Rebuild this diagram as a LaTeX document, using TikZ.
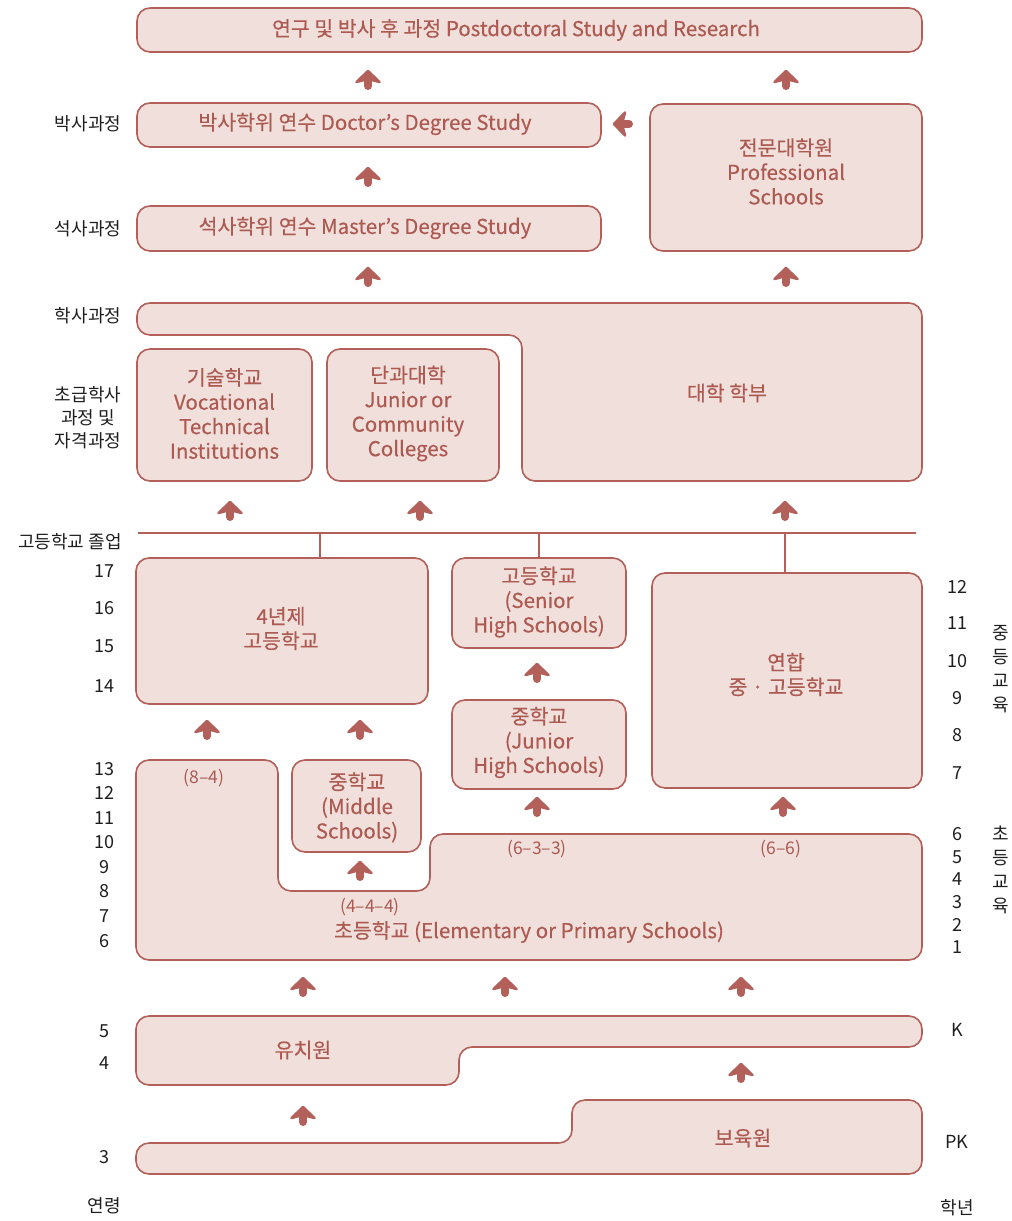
\documentclass[tikz,border=0pt]{standalone}
\usepackage{fontspec}
\setmainfont{Noto Sans CJK KR}[BoldFont=Noto Sans CJK KR, BoldFeatures={FakeBold=0.35}]
\definecolor{fillc}{HTML}{F0DFDB}
\definecolor{linec}{HTML}{B3605A}
\definecolor{txtc}{HTML}{AC5A52}
\definecolor{lblc}{HTML}{1E1E1E}
\tikzset{
  box/.style={draw=linec, fill=fillc, line width=1.6pt, rounded corners=13pt, inner sep=0pt},
  shapebox/.style={draw=linec, fill=fillc, line width=1.6pt, rounded corners=13pt},
  btxt/.style={text=txtc, align=center, inner sep=0pt, font=\fontsize{20.5}{24.5}\selectfont\bfseries},
  stxt/.style={text=txtc, align=center, inner sep=0pt, font=\fontsize{17.5}{20}\selectfont},
  lbl/.style={text=lblc, align=center, inner sep=0pt, font=\fontsize{18}{23}\selectfont},
  vlbl/.style={text=lblc, align=center, inner sep=0pt, font=\fontsize{18}{24}\selectfont},
  gline/.style={draw=linec, line width=1.6pt},
  upar/.pic={
    \fill[linec, draw=linec, line width=2.5pt, line join=round] (-11.5,2) -- (0,-9) -- (11.5,2) -- (0,-1) -- cycle;
    \draw[linec, line width=8pt, line cap=round] (0,-2) -- (0,6);
  }
}
\begin{document}
\begin{tikzpicture}[x=1pt,y=-1pt]
\useasboundingbox (0,0) rectangle (1012,1221);

% ---------- top level ----------
\node[box, minimum width=785, minimum height=44] (post) at (529.5,30) {};
\node[btxt] (postt) at (516,30) {연구 및 박사 후 과정 Postdoctoral Study and Research};

\node[box, minimum width=464, minimum height=44] (doc) at (369,125) {};
\node[btxt] (doct) at (365,124) {박사학위 연수 Doctor’s Degree Study};

\node[box, minimum width=272, minimum height=147] (prof) at (786,177.5) {};
\node[btxt] (proft) at (786,171.5) {전문대학원\\Professional\\Schools};

\node[box, minimum width=464, minimum height=45] (mas) at (369,228.5) {};
\node[btxt] (mast) at (365,228) {석사학위 연수 Master’s Degree Study};

% ---------- bachelor ----------
\draw[shapebox] (500,303) -- (922,303) -- (922,481) -- (522,481) -- (522,335) -- (137,335) -- (137,303) -- cycle;
\node[btxt] (univt) at (727,393) {대학 학부};

\node[box, minimum width=175, minimum height=132] (voc) at (224.5,415) {};
\node[btxt] (voct) at (224.5,413.5) {기술학교\\Vocational\\Technical\\Institutions};

\node[box, minimum width=172, minimum height=132] (jc) at (413,415) {};
\node[btxt] (jct) at (408,413.5) {단과대학\\Junior or\\Community\\Colleges};

% ---------- graduation line ----------
\coordinate (gl) at (138,533);
\coordinate (gr) at (916,533);
\draw[gline] (gl) -- (gr);

% ---------- secondary ----------
\node[box, minimum width=292, minimum height=146] (hs4) at (282,631) {};
\node[btxt] (hs4t) at (281,628.5) {4년제\\고등학교};

\node[box, minimum width=174, minimum height=90] (shs) at (539,603) {};
\node[btxt] (shst) at (539,602) {고등학교\\(Senior\\High Schools)};

\node[box, minimum width=174, minimum height=89] (jhs) at (539,744.5) {};
\node[btxt] (jhst) at (539,742.5) {중학교\\(Junior\\High Schools)};

\node[box, minimum width=270, minimum height=215] (comb) at (787,680.5) {};
\node[btxt] (combt) at (786,674.5) {연합\\중 · 고등학교};

\draw[gline] (hs4.north -| 320,0) -- (gl -| 320,0);
\draw[gline] (shs.north) -- (gl -| shs.north);
\draw[gline] (comb.north -| 785,0) -- (gl -| 785,0);

% ---------- elementary ----------
\draw[shapebox] (600,834) -- (922,834) -- (922,960) -- (136,960) -- (136,760) -- (278,760) -- (278,891) -- (430,891) -- (430,834) -- cycle;
\node[stxt] (e84) at (204,778) {(8–4)};
\node[stxt] (e633) at (537,849) {(6–3–3)};
\node[stxt] (e66) at (781,849) {(6–6)};
\node[stxt] (e444) at (370,907) {(4–4–4)};
\node[btxt] (elemt) at (529,932) {초등학교 (Elementary or Primary Schools)};

\node[box, minimum width=129, minimum height=92] (ms) at (356.5,806) {};
\node[btxt] (mst) at (357,807.5) {중학교\\(Middle\\Schools)};

% ---------- kindergarten ----------
\draw[shapebox] (600,1016) -- (922,1016) -- (922,1047) -- (459,1047) -- (459,1085) -- (136,1085) -- (136,1016) -- cycle;
\node[btxt] (kgt) at (303,1050) {유치원};

% ---------- daycare ----------
\draw[shapebox] (750,1100) -- (922,1100) -- (922,1174) -- (136,1174) -- (136,1143) -- (572,1143) -- (572,1100) -- cycle;
\node[btxt] (dct) at (743,1138) {보육원};

% ---------- arrows ----------
\pic at (368,80) {upar};
\pic at (786,80) {upar};
\pic[rotate=90] at (623,124) {upar};
\pic at (368,177) {upar};
\pic at (368,277) {upar};
\pic at (786,277) {upar};
\pic at (230,511) {upar};
\pic at (420,511) {upar};
\pic at (785,511) {upar};
\pic at (537,673) {upar};
\pic at (207,730) {upar};
\pic at (360,730) {upar};
\pic at (537,807) {upar};
\pic at (783,807) {upar};
\pic at (360,871) {upar};
\pic at (303,987) {upar};
\pic at (505,987) {upar};
\pic at (741,987) {upar};
\pic at (741,1073) {upar};
\pic at (303,1116) {upar};

% ---------- left labels ----------
\node[lbl] (l1) at (88,124) {박사과정};
\node[lbl] (l2) at (88,229) {석사과정};
\node[lbl] (l3) at (88,316) {학사과정};
\node[lbl] (l4) at (88,418) {초급학사\\과정 및\\자격과정};
\node[lbl] (l5) at (70,542) {고등학교 졸업};
\foreach \a/\y in {17/571,16/608,15/646,14/686,13/769,12/793,11/818,10/842,9/867,8/891,7/916,6/941,5/1031,4/1063,3/1157}{
  \node[lbl] (age\a) at (104,\y) {\a};
}
\node[lbl] (agel) at (104,1206) {연령};

% ---------- right labels ----------
\foreach \g/\y in {12/587,11/623,10/661,9/698,8/735,7/773,6/834,5/857,4/879,3/902,2/925,1/947}{
  \node[lbl] (gr\g) at (957,\y) {\g};
}
\node[lbl] (grK) at (957,1030) {K};
\node[lbl] (grPK) at (957,1142) {PK};
\node[lbl] (grl) at (957,1208) {학년};
\node[vlbl] (sec) at (1001,669) {중\\등\\교\\육};
\node[vlbl] (pri) at (1001,870) {초\\등\\교\\육};
\end{tikzpicture}
\end{document}
